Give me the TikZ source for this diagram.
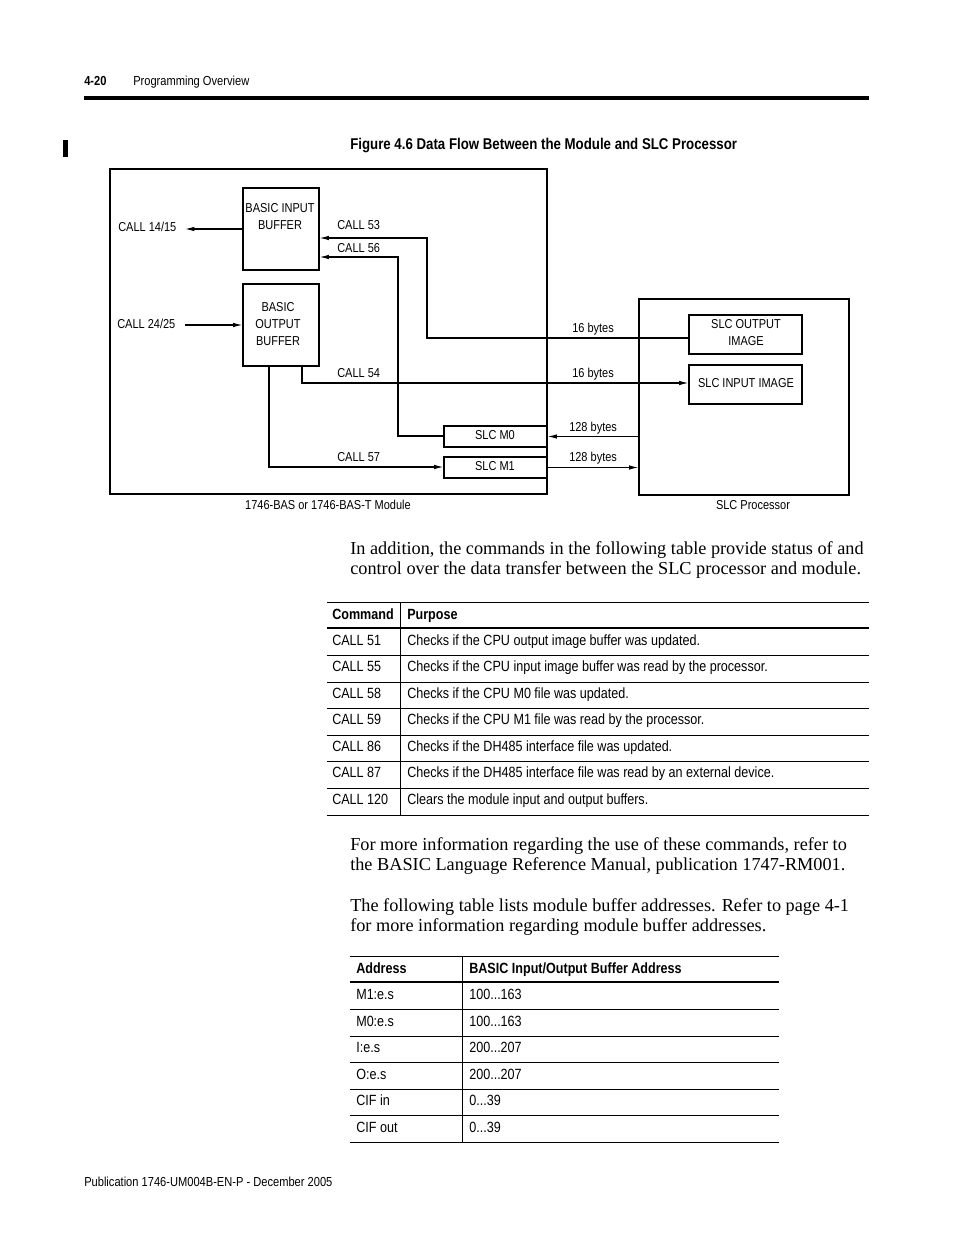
\documentclass[tikz,border=0pt]{standalone}
\usepackage{fontspec}
\setmainfont{Liberation Serif}
\newfontfamily\cond[FakeStretch=0.85]{Liberation Sans}
\usetikzlibrary{arrows.meta}
\begin{document}
\begin{tikzpicture}[x=0.75pt,y=-0.75pt,
  dtxt/.style={font=\cond\fontsize{9.7}{11}\selectfont, inner sep=0pt, text height=6.95pt, text depth=0pt},
  ttxt/.style={font=\cond\fontsize{11.1}{13}\selectfont, inner sep=0pt, text height=7.9pt, text depth=0pt, anchor=west},
  thdr/.style={font=\cond\bfseries\fontsize{11.1}{13}\selectfont, inner sep=0pt, text height=7.9pt, text depth=0pt, anchor=west},
  htxt/.style={font=\cond\fontsize{9.8}{12}\selectfont, inner sep=0pt, text height=7pt, text depth=0pt, anchor=west},
  body/.style={font=\fontsize{13.7}{15}\selectfont, inner sep=0pt, anchor=base west},
  box/.style={draw, line width=0.9pt, inner sep=0pt},
  ln/.style={line width=0.8pt},
  arr/.style={line width=0.8pt, -{Latex[length=7pt,width=3.4pt]}},
  rule/.style={line width=0.75pt},
  trule/.style={line width=2.2pt}
]
\useasboundingbox (0,0) rectangle (954,1235);
\fill[white] (0,0) rectangle (954,1235);

% ---------- page header ----------
\node[htxt, font=\cond\bfseries\fontsize{9.8}{12}\selectfont] (pnum) at (84,81) {4-20};
\node[htxt] (chap) at (133,81) {Programming Overview};
\fill (84,96) rectangle (869,100);
\fill (63,140) rectangle (68,157);

% ---------- figure title ----------
\node[font=\cond\bfseries\fontsize{11.7}{14}\selectfont, inner sep=0pt, text height=8.4pt, text depth=0pt, anchor=west] (ftitle) at (350,144) {Figure 4.6 Data Flow Between the Module and SLC Processor};

% ---------- diagram boxes ----------
\node[box, line width=1.1pt, minimum width=327.75pt, minimum height=243.75pt] (mod) at (328.5,331.5) {};
\node[box, minimum width=57pt, minimum height=61.5pt] (bib) at (281,229) {};
\node[box, minimum width=57pt, minimum height=61.5pt] (bob) at (281,325) {};
\node[box, minimum width=77.25pt, minimum height=15.75pt] (m0) at (495.5,436.5) {};
\node[box, minimum width=77.25pt, minimum height=15.75pt] (m1) at (495.5,467.5) {};
\node[box, minimum width=157.5pt, minimum height=147pt] (slcp) at (744,397) {};
\node[box, minimum width=84.75pt, minimum height=29.25pt] (soi) at (745.5,334.5) {};
\node[box, minimum width=84.75pt, minimum height=29.25pt] (sii) at (745.5,384.5) {};

% box texts
\node[dtxt] (bibt1) at (280,208) {BASIC INPUT};
\node[dtxt] (bibt2) at (280,225) {BUFFER};
\node[dtxt] (bobt1) at (278,307) {BASIC};
\node[dtxt] (bobt2) at (278,324) {OUTPUT};
\node[dtxt] (bobt3) at (278,341) {BUFFER};
\node[dtxt] (m0t) at (495,435) {SLC M0};
\node[dtxt] (m1t) at (495,466) {SLC M1};
\node[dtxt] (soit1) at (746,324) {SLC OUTPUT};
\node[dtxt] (soit2) at (746,341) {IMAGE};
\node[dtxt] (siit) at (746,383) {SLC INPUT IMAGE};
\node[dtxt] (modcap) at (328,505) {1746-BAS or 1746-BAS-T Module};
\node[dtxt] (slccap) at (753,505) {SLC Processor};

% connector labels
\node[dtxt, anchor=west] (l1415) at (118,227) {CALL 14/15};
\node[dtxt, anchor=west] (l2425) at (117,324) {CALL 24/25};
\node[dtxt, anchor=west] (l53) at (337,225) {CALL 53};
\node[dtxt, anchor=west] (l56) at (337,248) {CALL 56};
\node[dtxt, anchor=west] (l54) at (337,373) {CALL 54};
\node[dtxt, anchor=west] (l57) at (337,457) {CALL 57};
\node[dtxt, anchor=west] (b16a) at (572,328) {16 bytes};
\node[dtxt, anchor=west] (b16b) at (572,373) {16 bytes};
\node[dtxt, anchor=west] (b128a) at (569,427) {128 bytes};
\node[dtxt, anchor=west] (b128b) at (569,457) {128 bytes};

% connector coordinates
\coordinate (a1415) at (185,229);
\coordinate (a2425) at (185,325);
\coordinate (k53a) at (427,338);
\coordinate (k53b) at (427,238);
\coordinate (k56a) at (398,436);
\coordinate (k56b) at (398,257);
\coordinate (k54a) at (302,383);
\coordinate (k57a) at (269,467);

% connectors
\draw[arr] (bib.west) -- (a1415);
\draw[arr] (a2425) -- (bob.west);
\draw[arr] (soi.west |- k53a) -- (k53a) -- (k53b) -- (bib.east |- k53b);
\draw[arr] (m0.west |- k56a) -- (k56a) -- (k56b) -- (bib.east |- k56b);
\draw[arr] (bob.south -| k54a) -- (k54a) -- (sii.west |- k54a);
\draw[arr] (bob.south -| k57a) -- (k57a) -- (m1.west |- k57a);
\draw[arr] (slcp.west |- m0.east) -- (m0.east);
\draw[arr] (m1.east) -- (slcp.west |- m1.east);

% ---------- paragraph 1 ----------
\node[body] (p1a) at (350,554) {In addition, the commands in the following table provide status of and};
\node[body] (p1b) at (350,574) {control over the data transfer between the SLC processor and module.};

% ---------- table 1 ----------
\draw[rule] (327,602) -- (869,602);
\draw[trule] (327,628) -- (869,628);
\foreach \yy in {655,682,708,735,761,788,815} \draw[rule] (327,\yy) -- (869,\yy);
\draw[rule] (400,602) -- (400,815);
\node[thdr] (h1a) at (332,614) {Command};
\node[thdr] (h1b) at (407,614) {Purpose};
\node[ttxt] (c1) at (332,640) {CALL 51};
\node[ttxt] (d1) at (407,640) {Checks if the CPU output image buffer was updated.};
\node[ttxt] (c2) at (332,666) {CALL 55};
\node[ttxt] (d2) at (407,666) {Checks if the CPU input image buffer was read by the processor.};
\node[ttxt] (c3) at (332,693) {CALL 58};
\node[ttxt] (d3) at (407,693) {Checks if the CPU M0 file was updated.};
\node[ttxt] (c4) at (332,719) {CALL 59};
\node[ttxt] (d4) at (407,719) {Checks if the CPU M1 file was read by the processor.};
\node[ttxt] (c5) at (332,746) {CALL 86};
\node[ttxt] (d5) at (407,746) {Checks if the DH485 interface file was updated.};
\node[ttxt] (c6) at (332,772) {CALL 87};
\node[ttxt] (d6) at (407,772) {Checks if the DH485 interface file was read by an external device.};
\node[ttxt] (c7) at (332,799) {CALL 120};
\node[ttxt] (d7) at (407,799) {Clears the module input and output buffers.};

% ---------- paragraphs 2, 3 ----------
\node[body] (p2a) at (350,850) {For more information regarding the use of these commands, refer to};
\node[body] (p2b) at (350,870) {the BASIC Language Reference Manual, publication 1747-RM001.};
\node[body] (p3a) at (350,911) {The following table lists module buffer addresses. Refer to page 4-1};
\node[body] (p3b) at (350,931) {for more information regarding module buffer addresses.};

% ---------- table 2 ----------
\draw[rule] (350,956) -- (779,956);
\draw[trule] (350,982) -- (779,982);
\foreach \yy in {1009,1036,1062,1089,1115,1142} \draw[rule] (350,\yy) -- (779,\yy);
\draw[rule] (462,956) -- (462,1142);
\node[thdr] (h2a) at (356,968) {Address};
\node[thdr] (h2b) at (469,968) {BASIC Input/Output Buffer Address};
\node[ttxt] (a1) at (356,994) {M1:e.s};
\node[ttxt] (v1) at (469,994) {100...163};
\node[ttxt] (a2) at (356,1021) {M0:e.s};
\node[ttxt] (v2) at (469,1021) {100...163};
\node[ttxt] (a3) at (356,1047) {I:e.s};
\node[ttxt] (v3) at (469,1047) {200...207};
\node[ttxt] (a4) at (356,1074) {O:e.s};
\node[ttxt] (v4) at (469,1074) {200...207};
\node[ttxt] (a5) at (356,1100) {CIF in};
\node[ttxt] (v5) at (469,1100) {0...39};
\node[ttxt] (a6) at (356,1127) {CIF out};
\node[ttxt] (v6) at (469,1127) {0...39};

% ---------- footer ----------
\node[htxt] (foot) at (84,1182) {Publication 1746-UM004B-EN-P - December 2005};
\end{tikzpicture}
\end{document}
